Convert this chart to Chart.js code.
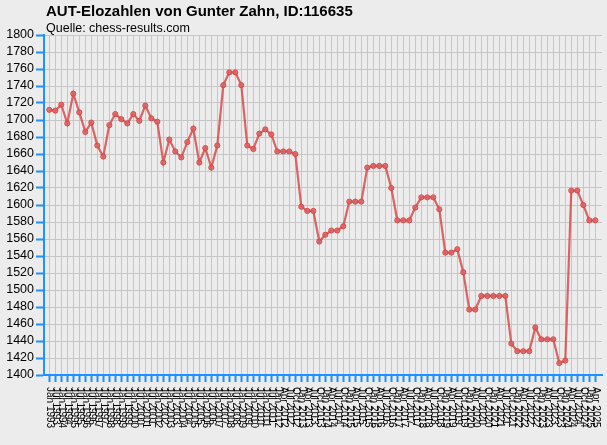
<!DOCTYPE html>
<html>
<head>
<meta charset="utf-8">
<script src="https://cdn.jsdelivr.net/npm/chart.js@4"></script>
<style>
html,body{margin:0;padding:0;background:#ececec;}
#wrap{width:607px;height:445px;position:relative;}
</style>
</head>
<body>
<div id="wrap"><canvas id="c" width="607" height="445"></canvas></div>
<script>
const titleText = 'AUT-Elozahlen von Gunter Zahn, ID:116635';
const subtitleText = 'Quelle: chess-results.com';

const dateLabels = [
 'Jan 1993','Jul 1993','Jan 1994','Jul 1994','Jan 1995','Jul 1995','Jan 1996','Jul 1996',
 'Jan 1997','Jul 1997','Jan 1998','Jul 1998','Jan 1999','Jul 1999','Jan 2000','Jul 2000',
 'Jan 2001','Jul 2001','Jan 2002','Jul 2002','Jan 2003','Jul 2003','Jan 2004','Jul 2004',
 'Jan 2005','Jul 2005','Jan 2006','Jul 2006','Jan 2007','Jul 2007','Jan 2008','Jul 2008',
 'Jan 2009','Jul 2009','Jan 2010','Jul 2010','Jan 2011','Jul 2011',
 'Jan 2012','Apr 2012','Jul 2012','Oct 2012','Jan 2013','Apr 2013','Jul 2013','Oct 2013',
 'Jan 2014','Apr 2014','Jul 2014','Oct 2014','Jan 2015','Apr 2015','Jul 2015','Oct 2015',
 'Jan 2016','Apr 2016','Jul 2016','Oct 2016','Jan 2017','Apr 2017','Jul 2017','Oct 2017',
 'Jan 2018','Apr 2018','Jul 2018','Oct 2018','Jan 2019','Apr 2019','Jul 2019','Oct 2019',
 'Jan 2020','Apr 2020','Jul 2020','Oct 2020','Jan 2021','Apr 2021','Jul 2021','Oct 2021',
 'Jan 2022','Apr 2022','Jul 2022','Oct 2022','Jan 2023','Apr 2023','Jul 2023','Oct 2023',
 'Jan 2024','Apr 2024','Jul 2024','Oct 2024','Jan 2025','Apr 2025'
];

const eloValues = [
 1712,1711,1718,1696,1731,1709,1686,1697,1670,1657,
 1694,1707,1701,1696,1707,1699,1717,1702,1698,1650,
 1677,1663,1656,1674,1690,1650,1667,1644,1670,1741,
 1756,1756,1741,1670,1666,1684,1689,1683,1663,1663,
 1663,1660,1598,1593,1593,1557,1565,1570,1570,1575,
 1604,1604,1604,1644,1646,1646,1646,1620,1582,1582,
 1582,1597,1609,1609,1609,1595,1544,1544,1548,1521,
 1477,1477,1493,1493,1493,1493,1493,1437,1428,1428,
 1428,1456,1442,1442,1442,1414,1417,1617,1617,1600,
 1582,1582
];

const yTickMin = 1400, yTickMax = 1800, yTickStep = 20;

const blue = '#1e90ff';
const gridGray = '#c6c6c6';

const points = eloValues.map((v, i) => ({x: i, y: v}));

const bgPlugin = {
  id: 'bg',
  beforeDraw(chart) {
    const ctx = chart.ctx;
    ctx.save();
    ctx.fillStyle = '#ececec';
    ctx.fillRect(0, 0, chart.width, chart.height);
    ctx.restore();
  }
};

const textPlugin = {
  id: 'texts',
  afterDraw(chart) {
    const ctx = chart.ctx;
    const xs = chart.scales.x;
    ctx.save();
    ctx.fillStyle = '#000';
    ctx.textBaseline = 'alphabetic';
    ctx.textAlign = 'left';
    ctx.font = 'bold 15px "Liberation Sans", Arial, sans-serif';
    ctx.fillText(titleText, 46, 16);
    ctx.font = '12.5px "Liberation Sans", Arial, sans-serif';
    ctx.fillText(subtitleText, 46, 31.5);
    ctx.font = '10px "Liberation Sans", Arial, sans-serif';
    ctx.textBaseline = 'middle';
    dateLabels.forEach((lab, i) => {
      const px = xs.getPixelForValue(i);
      ctx.save();
      ctx.translate(px, 387);
      ctx.rotate(Math.PI / 2);
      ctx.fillText(lab, 0, 0);
      ctx.restore();
    });
    ctx.restore();
  }
};

new Chart(document.getElementById('c'), {
  type: 'line',
  data: {
    datasets: [{
      data: points,
      borderColor: 'rgba(214,66,66,0.8)',
      backgroundColor: 'rgba(214,66,66,0.8)',
      pointBackgroundColor: 'rgba(222,96,96,0.85)',
      pointBorderColor: 'rgba(214,66,66,0.85)',
      pointBorderWidth: 1,
      pointRadius: 2.6,
      borderWidth: 2.2,
      tension: 0,
      fill: false
    }]
  },
  options: {
    responsive: false,
    animation: false,
    devicePixelRatio: 1,
    layout: {padding: {top: 35, right: 5, left: 0, bottom: 0}},
    plugins: {
      legend: {display: false},
      tooltip: {enabled: false},
      title: {display: false}
    },
    scales: {
      x: {
        type: 'linear',
        min: -0.883,
        max: 92.117,
        afterBuildTicks(scale) {
          scale.ticks = dateLabels.map((l, i) => ({value: i}));
        },
        afterFit(scale) { scale.height = 70; },
        ticks: {display: false},
        grid: {
          color: gridGray,
          lineWidth: 1,
          drawTicks: true,
          tickLength: 7,
          tickColor: blue,
          tickWidth: 2
        },
        border: {display: true, color: blue, width: 2}
      },
      y: {
        type: 'linear',
        min: yTickMin,
        max: yTickMax,
        afterFit(scale) { scale.width = 44; },
        ticks: {
          stepSize: yTickStep,
          autoSkip: false,
          padding: 2,
          color: '#000',
          font: {family: '"Liberation Sans", Arial, sans-serif', size: 12.5},
          callback: (v) => String(v)
        },
        grid: {
          color: gridGray,
          lineWidth: 1,
          drawTicks: true,
          tickLength: 8,
          tickColor: blue,
          tickWidth: 2
        },
        border: {display: true, color: blue, width: 2}
      }
    }
  },
  plugins: [bgPlugin, textPlugin]
});
</script>
</body>
</html>
